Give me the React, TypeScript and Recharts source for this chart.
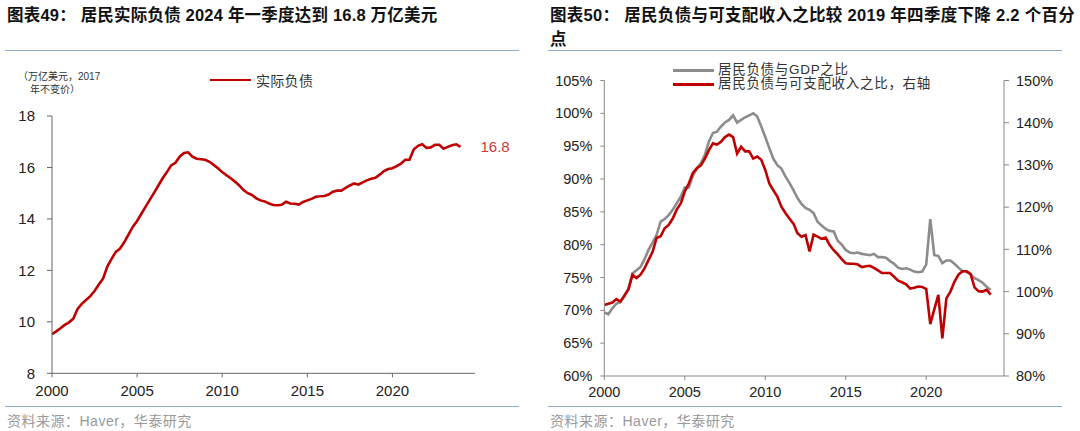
import React from 'react';
import { Line, LineChart, ReferenceDot, XAxis, YAxis } from 'recharts';

// quarterly series, 2000Q1 .. 2024Q1
const START_YEAR = 2000;
const yearTicks = [2000, 2005, 2010, 2015, 2020];
const debtTicks = [8, 10, 12, 14, 16, 18];
const gdpRatioTicks = [60, 65, 70, 75, 80, 85, 90, 95, 100, 105];
const incomeRatioTicks = [80, 90, 100, 110, 120, 130, 140, 150];

// 实际负债, 万亿美元 (2017 年不变价)
const realDebt = [
  9.52, 9.63, 9.75, 9.88, // 2000
  9.98, 10.12, 10.5, 10.7,
  10.85, 11.0, 11.2, 11.45,
  11.68, 12.15, 12.45, 12.72,
  12.85, 13.1, 13.4, 13.7,
  13.92, 14.2, 14.48, 14.75, // 2005
  15.02, 15.3, 15.58, 15.82,
  16.08, 16.18, 16.42, 16.56,
  16.59, 16.42, 16.34, 16.32,
  16.3, 16.22, 16.1, 15.97,
  15.82, 15.7, 15.58, 15.45, // 2010
  15.3, 15.12, 15.0, 14.93,
  14.8, 14.72, 14.68, 14.6,
  14.54, 14.53, 14.55, 14.67,
  14.6, 14.59, 14.56, 14.66,
  14.72, 14.78, 14.86, 14.88, // 2015
  14.89, 14.95, 15.06, 15.1,
  15.1, 15.21, 15.3, 15.38,
  15.33, 15.42, 15.5, 15.56,
  15.6, 15.72, 15.86, 15.94,
  15.97, 16.05, 16.15, 16.3, // 2020
  16.3, 16.7, 16.84, 16.9,
  16.76, 16.78, 16.88, 16.88,
  16.73, 16.8, 16.86, 16.9,
  16.8, // 2024Q1
];

// 居民负债与GDP之比, %
const debtToGdp = [
  69.7, 69.4, 70.3, 71.0, // 2000
  71.3, 72.1, 73.3, 75.6,
  76.1, 76.6, 77.8, 79.2,
  80.3, 81.5, 83.5, 83.9,
  84.5, 85.3, 86.3, 87.3,
  88.7, 88.7, 90.5, 91.6, // 2005
  92.4, 93.7, 95.7, 97.0,
  97.2, 98.0, 98.6, 99.0,
  99.7, 98.6, 99.0, 99.4,
  99.7, 100.0, 99.5, 98.0,
  96.4, 94.7, 93.1, 92.1, // 2010
  91.6, 90.4, 89.4, 88.3,
  87.1, 86.2, 85.6, 85.3,
  84.8, 83.5, 82.9, 82.4,
  82.1, 82.0, 80.6, 80.0,
  79.2, 78.8, 78.7, 78.8, // 2015
  78.6, 78.5, 78.4, 78.6,
  78.1, 78.1, 78.0, 77.5,
  77.1, 76.5, 76.3, 76.4,
  76.2, 75.9, 75.8, 75.9,
  77.0, 83.9, 78.4, 78.3, // 2020
  77.2, 77.6, 77.6, 77.1,
  76.5, 76.0, 75.9, 75.5,
  74.9, 74.6, 74.2, 73.6,
  73.1,
];

// 居民负债与可支配收入之比 (右轴), %
const debtToIncome = [
  96.8, 97.1, 97.4, 98.2, // 2000
  97.6, 99.1, 100.5, 104.0,
  103.2, 104.0, 105.5, 107.5,
  109.4, 112.7, 113.1, 115.0,
  115.8, 117.3, 119.4, 120.9,
  123.7, 125.6, 128.1, 129.2, // 2005
  129.9, 131.5, 133.5, 135.1,
  134.8, 135.5, 136.6, 137.2,
  136.6, 132.7, 134.3, 133.2,
  133.2, 131.5, 132.0, 131.2,
  128.8, 125.6, 124.0, 122.5, // 2010
  120.1, 118.6, 117.3, 116.1,
  113.8, 113.0, 113.4, 109.5,
  113.5, 113.0, 112.5, 112.8,
  111.0, 109.8, 108.8, 107.7,
  106.7, 106.6, 106.6, 106.4, // 2015
  105.8, 106.0, 106.1, 105.6,
  105.0, 104.4, 104.4, 104.4,
  103.5, 102.6, 102.2, 101.7,
  100.7, 100.9, 101.2, 101.1,
  100.6, 92.3, 95.8, 99.2, // 2020
  88.9, 98.4, 100.0, 102.3,
  104.0, 104.8, 104.8, 104.2,
  101.0, 100.1, 100.0, 100.4,
  99.3,
];

const leftData = realDebt.map((v, i) => ({ year: START_YEAR + i / 4, debt: v }));
const rightData = debtToGdp.map((v, i) => ({
  year: START_YEAR + i / 4,
  gdp: v,
  income: debtToIncome[i],
}));
const lastIdx = leftData.length - 1;

const RED = '#C00000';
const GREY = '#8C8C8C';
const SEP = '#8FAACB';
const FONT = "'Liberation Sans', 'Noto Sans CJK SC', sans-serif";

const abs = (left: number, top: number): React.CSSProperties => ({
  position: 'absolute',
  left,
  top,
  whiteSpace: 'nowrap',
  fontFamily: FONT,
});

const App: React.FC = () => {
  return (
    <div
      style={{
        position: 'absolute',
        left: 0,
        top: 0,
        width: 1080,
        height: 431,
        background: '#fff',
        overflow: 'hidden',
        fontFamily: FONT,
      }}
    >
      {/* titles */}
      <div
        style={{
          ...abs(7, 3),
          fontSize: 16.5,
          fontWeight: 700,
          lineHeight: '24px',
          color: '#111',
          letterSpacing: 0.2,
        }}
      >
        图表49：&nbsp;居民实际负债 2024 年一季度达到 16.8 万亿美元
      </div>
      <div
        style={{
          ...abs(550, 3),
          fontSize: 16.5,
          fontWeight: 700,
          lineHeight: '24px',
          color: '#111',
          letterSpacing: 0.3,
        }}
      >
        图表50：&nbsp;居民负债与可支配收入之比较 2019 年四季度下降 2.2 个百分
        <br />点
      </div>

      {/* separators */}
      <div style={{ position: 'absolute', left: 5, top: 50, width: 514, borderTop: `1.5px solid ${SEP}` }} />
      <div style={{ position: 'absolute', left: 548, top: 50, width: 514, borderTop: `1.5px solid ${SEP}` }} />
      <div style={{ position: 'absolute', left: 5, top: 406, width: 514, borderTop: `1.5px solid ${SEP}` }} />
      <div style={{ position: 'absolute', left: 548, top: 406, width: 514, borderTop: `1.5px solid ${SEP}` }} />

      {/* left chart */}
      <div style={{ position: 'absolute', left: 0, top: 0 }}>
        <LineChart
          width={540}
          height={431}
          data={leftData}
          margin={{ top: 116, right: 65, bottom: 27.7, left: 12 }}
        >
          <XAxis
            dataKey="year"
            type="number"
            domain={[2000, 2024.85]}
            ticks={yearTicks}
            height={30}
            stroke="#666"
            tickSize={4}
            tickMargin={8}
            tick={{ fill: '#222', fontSize: 15, fontFamily: FONT }}
          />
          <YAxis
            domain={[8, 18]}
            ticks={debtTicks}
            width={40}
            stroke="#666"
            tickSize={5}
            tickMargin={12}
            tick={{ fill: '#222', fontSize: 15, fontFamily: FONT }}
          />
          <Line
            type="linear"
            dataKey="debt"
            stroke={RED}
            strokeWidth={2.6}
            dot={false}
            isAnimationActive={false}
          />
          <ReferenceDot
            x={leftData[lastIdx].year}
            y={leftData[lastIdx].debt}
            r={0}
            fill="none"
            stroke="none"
            label={{
              value: leftData[lastIdx].debt.toFixed(1),
              position: 'right',
              offset: 20,
              fill: '#D03A35',
              fontSize: 15,
              fontFamily: FONT,
            }}
          />
        </LineChart>
      </div>

      {/* left unit + legend */}
      <div style={{ ...abs(18, 69.5), fontSize: 10, lineHeight: '13px', color: '#333' }}>（万亿美元，2017</div>
      <div style={{ ...abs(30, 82.5), fontSize: 10, lineHeight: '13px', color: '#333' }}>年不变价）</div>
      <div style={{ ...abs(210, 71), display: 'flex', alignItems: 'center', height: 18 }}>
        <span style={{ display: 'inline-block', width: 41, height: 2.5, background: RED, marginRight: 5 }} />
        <span style={{ fontSize: 14, color: '#333', letterSpacing: 0.3 }}>实际负债</span>
      </div>

      {/* right chart */}
      <div style={{ position: 'absolute', left: 540, top: 0 }}>
        <LineChart
          width={540}
          height={431}
          data={rightData}
          margin={{ top: 80.5, right: 26, bottom: 25, left: 14.3 }}
        >
          <XAxis
            dataKey="year"
            type="number"
            domain={[2000, 2024.83]}
            ticks={yearTicks}
            height={30}
            stroke="#888"
            tickSize={4}
            tickMargin={7}
            tick={{ fill: '#222', fontSize: 14.5, fontFamily: FONT }}
          />
          <YAxis
            yAxisId="left"
            domain={[60, 105]}
            ticks={gdpRatioTicks}
            width={50}
            stroke="#888"
            tickSize={4}
            tickMargin={8}
            tickFormatter={(v: number) => `${v}%`}
            tick={{ fill: '#222', fontSize: 14.5, fontFamily: FONT }}
          />
          <YAxis
            yAxisId="right"
            orientation="right"
            domain={[80, 150]}
            ticks={incomeRatioTicks}
            width={50}
            stroke="#888"
            tickSize={5}
            tickMargin={7}
            tickFormatter={(v: number) => `${v}%`}
            tick={{ fill: '#222', fontSize: 14.5, fontFamily: FONT, textAnchor: 'start' }}
          />
          <Line
            yAxisId="left"
            type="linear"
            dataKey="gdp"
            stroke={GREY}
            strokeWidth={2.6}
            dot={false}
            isAnimationActive={false}
          />
          <Line
            yAxisId="right"
            type="linear"
            dataKey="income"
            stroke={RED}
            strokeWidth={2.6}
            dot={false}
            isAnimationActive={false}
          />
        </LineChart>
      </div>

      {/* right legend */}
      <div style={{ ...abs(673, 63), fontSize: 13.5, color: '#333', lineHeight: '14px', letterSpacing: 0.7 }}>
        <div style={{ display: 'flex', alignItems: 'center', height: 14 }}>
          <span style={{ display: 'inline-block', width: 41, height: 3, background: GREY, marginRight: 4 }} />
          <span>居民负债与GDP之比</span>
        </div>
        <div style={{ display: 'flex', alignItems: 'center', height: 14 }}>
          <span style={{ display: 'inline-block', width: 41, height: 3, background: RED, marginRight: 4 }} />
          <span>居民负债与可支配收入之比，右轴</span>
        </div>
      </div>

      {/* sources */}
      <div style={{ ...abs(7, 413), fontSize: 14, lineHeight: '16px', color: '#999', letterSpacing: 0.5 }}>
        资料来源：Haver，华泰研究
      </div>
      <div style={{ ...abs(550, 413), fontSize: 14, lineHeight: '16px', color: '#999', letterSpacing: 0.5 }}>
        资料来源：Haver，华泰研究
      </div>
    </div>
  );
};

export default App;
